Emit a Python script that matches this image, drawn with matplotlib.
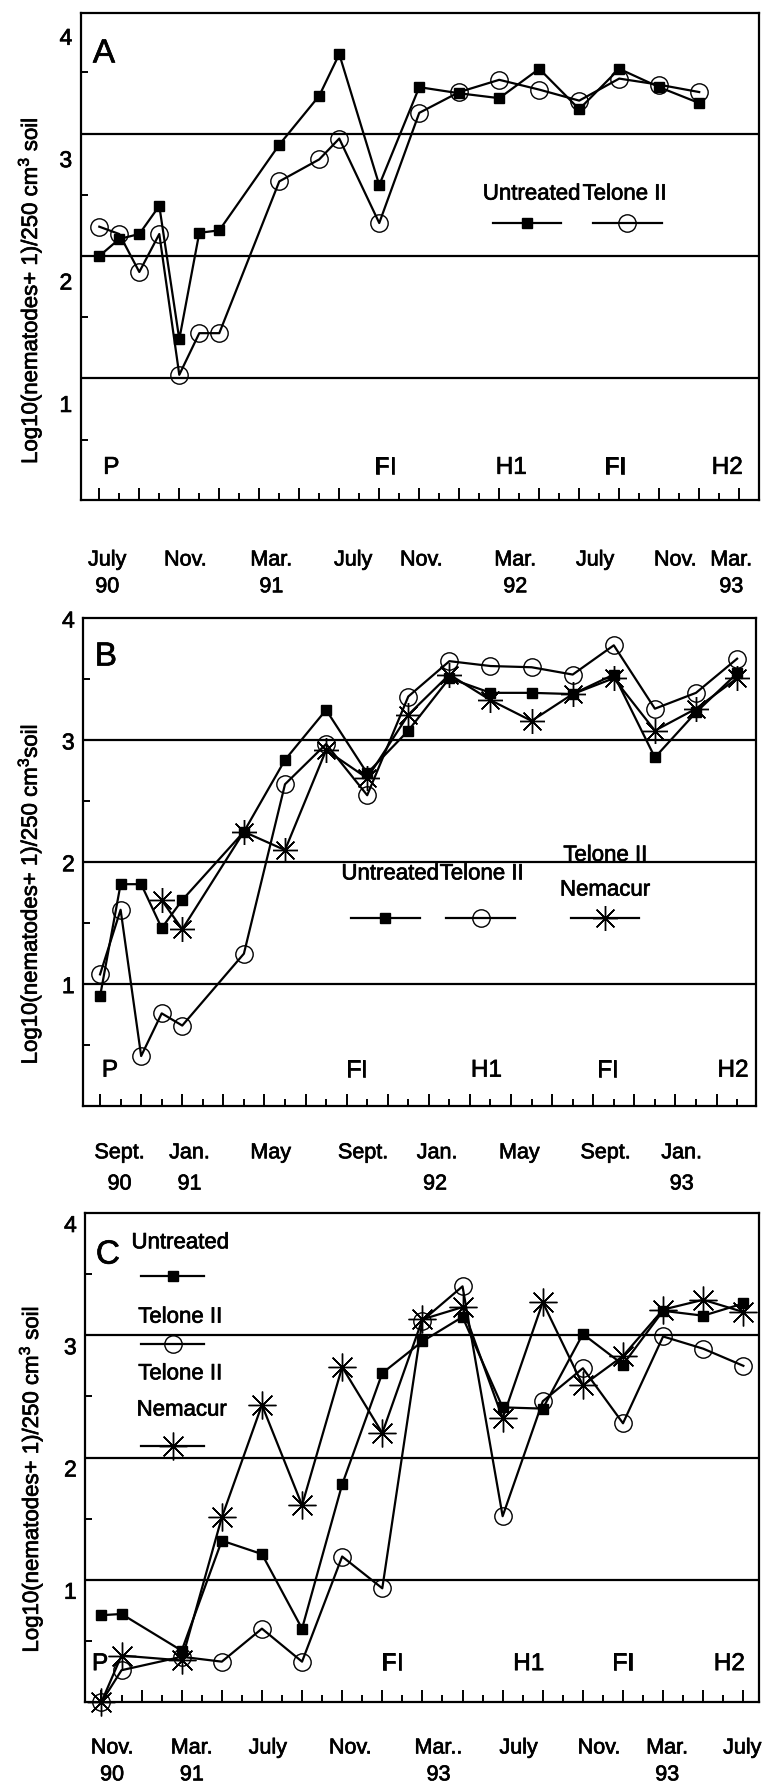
import matplotlib
matplotlib.use('Agg')
import matplotlib.pyplot as plt
import matplotlib.patheffects as pe
from matplotlib.text import Text
from matplotlib.transforms import ScaledTranslation

plt.rcParams['font.family'] = ['Liberation Sans', 'DejaVu Sans']
plt.rcParams['mathtext.fontset'] = 'custom'
plt.rcParams['mathtext.rm'] = 'Liberation Sans'
plt.rcParams['mathtext.it'] = 'Liberation Sans'

# ---------------- data ----------------
# x = months since first sampling (tick index)
A_x = [0, 1, 2, 3, 4, 5, 6, 9, 11, 12, 14, 16, 18, 20, 22, 24, 26, 28, 30]
A_untreated = [2.20, 2.34, 2.38, 2.61, 1.52, 2.39, 2.41, 3.11, 3.51, 3.85, 2.78,
               3.58, 3.53, 3.49, 3.73, 3.40, 3.73, 3.58, 3.45]
A_telone = [2.44, 2.38, 2.07, 2.38, 1.23, 1.57, 1.57, 2.81, 2.99, 3.16, 2.47,
            3.37, 3.54, 3.64, 3.56, 3.47, 3.65, 3.60, 3.54]

B_x = [0, 1, 2, 3, 4, 7, 9, 11, 13, 15, 17, 19, 21, 23, 25, 27, 29, 31]
B_untreated = [0.90, 1.82, 1.82, 1.46, 1.69, 2.25, 2.84, 3.25, 2.73, 3.08, 3.51,
               3.39, 3.39, 3.38, 3.54, 2.86, 3.23, 3.55]
B_telone = [1.08, 1.61, 0.41, 0.76, 0.66, 1.25, 2.64, 2.97, 2.55, 3.36, 3.65,
            3.61, 3.60, 3.54, 3.78, 3.26, 3.39, 3.67]
B_tn_x = [3, 4, 7, 9, 11, 13, 15, 17, 19, 21, 23, 25, 27, 29, 31]
B_telone_nemacur = [1.69, 1.45, 2.25, 2.10, 2.92, 2.69, 3.21, 3.54, 3.33, 3.16,
                    3.38, 3.51, 3.08, 3.26, 3.51]

C_x = [0, 1, 4, 6, 8, 10, 12, 14, 16, 18, 20, 22, 24, 26, 28, 30, 32]
C_untreated = [0.71, 0.72, 0.42, 1.32, 1.21, 0.60, 1.78, 2.69, 2.95, 3.15, 2.41,
               2.40, 3.01, 2.76, 3.20, 3.16, 3.26]
C_telone = [0.00, 0.26, 0.37, 0.33, 0.60, 0.33, 1.19, 0.93, 3.12, 3.40, 1.52,
            2.46, 2.73, 2.28, 2.99, 2.89, 2.75]
C_telone_nemacur = [0.00, 0.38, 0.34, 1.51, 2.43, 1.61, 2.74, 2.20, 3.13, 3.23,
                    2.32, 3.27, 2.59, 2.83, 3.21, 3.29, 3.19]

A_months = ['July', 'Nov.', 'Mar.', 'July', 'Nov.', 'Mar.', 'July', 'Nov.', 'Mar.']
A_month_pos = [0.4, 4.3, 8.6, 12.7, 16.1, 20.8, 24.8, 28.8, 31.6]
A_years = ['90', '91', '92', '93']
A_year_pos = [0.4, 8.6, 20.8, 31.6]

B_months = ['Sept.', 'Jan.', 'May', 'Sept.', 'Jan.', 'May', 'Sept.', 'Jan.']
B_month_pos = [0.95, 4.35, 8.3, 12.8, 16.4, 20.4, 24.6, 28.3]
B_years = ['90', '91', '92', '93']
B_year_pos = [0.95, 4.35, 16.3, 28.3]

C_months = ['Nov.', 'Mar.', 'July', 'Nov.', 'Mar..', 'July', 'Nov.', 'Mar.', 'July']
C_month_pos = [0.53, 4.5, 8.3, 12.4, 16.8, 20.8, 24.8, 28.2, 31.95]
C_years = ['90', '91', '93', '93']
C_year_pos = [0.53, 4.5, 16.8, 28.2]

stages = ['P', 'FI', 'H1', 'FI', 'H2']
A_stage_pos = [0.6, 14.3, 20.6, 25.8, 31.4]
B_stage_pos = [0.48, 12.5, 18.8, 24.7, 30.8]
C_stage_pos = [-0.07, 14.5, 21.3, 26.0, 31.3]

ytick_labels = ['1', '2', '3', '4']

# ---------------- figure ----------------
W, H = 763, 1784
fig = plt.figure(figsize=(W / 100, H / 100), dpi=100)

LW = 1.6
sq = dict(color='black', lw=LW, marker='s', ms=6.5, mfc='black', mec='black', clip_on=False)
ci = dict(color='black', lw=LW, marker='o', ms=12.5, mfc='none', mec='black', mew=1.0, clip_on=False)


def star(ms):
    return dict(color='black', lw=LW, marker=(8, 2, 0), ms=ms, mec='black', mew=1.0, clip_on=False)


def make_axes(left, top, right, bottom):
    return fig.add_axes([left / W, 1 - bottom / H, (right - left) / W, (bottom - top) / H])


def style(ax, xlim, ylim, grid, yt, minor_y, nticks, ylab, ylab_xy, months, mpos, my,
          years, ypos, yy, stage_pos, stage_y, letter, letter_xy, ylab_dy=0.0):
    ax.set_xlim(*xlim)
    ax.set_ylim(*ylim)
    for g in grid:
        ax.axhline(g, color='black', lw=1.6, zorder=1)
    for s in ax.spines.values():
        s.set_linewidth(1.6)
    ax.set_xticks(list(range(0, nticks, 2)))
    ax.set_xticks(list(range(1, nticks, 2)), minor=True)
    ax.tick_params(axis='x', which='major', direction='in', length=9, width=1.4,
                   labelbottom=False)
    ax.tick_params(axis='x', which='minor', direction='in', length=4.8, width=1.4,
                   labelbottom=False)
    ax.set_yticks(yt)
    ax.set_yticklabels(ytick_labels)
    ax.set_yticks(minor_y, minor=True)
    ax.tick_params(axis='y', which='major', length=0, pad=6, labelsize=16.5)
    ax.tick_params(axis='y', which='minor', direction='in', length=5, width=1.4)
    if ylab_dy:
        for lbl in ax.get_yticklabels():
            lbl.set_transform(lbl.get_transform() +
                              ScaledTranslation(0, ylab_dy / 100, fig.dpi_scale_trans))
    ax.text(ylab_xy[0], ylab_xy[1], ylab, transform=ax.transAxes, rotation=90,
            ha='center', va='center', fontsize=16)
    tr = ax.get_xaxis_transform()
    for m, p in zip(months, mpos):
        ax.text(p, my, m, transform=tr, ha='center', va='center', fontsize=15.5,
                clip_on=False)
    for yv, p in zip(years, ypos):
        ax.text(p, yy, yv, transform=tr, ha='center', va='center', fontsize=15.5,
                clip_on=False)
    for s, p in zip(stages, stage_pos):
        ax.text(p, stage_y, s, ha='center', va='center', fontsize=17.5)
    ax.text(letter_xy[0], letter_xy[1], letter, transform=ax.transAxes,
            ha='center', va='center', fontsize=24)


def leg_line(ax, x0, x1, xm, y, kw):
    ax.plot([x0, x1], [y, y], transform=ax.transAxes, color='black', lw=LW, clip_on=False)
    k = dict(kw)
    k.pop('lw', None)
    k.pop('color', None)
    ax.plot([xm], [y], transform=ax.transAxes, linestyle='none', **k)


# ---------------- Panel A ----------------
axA = make_axes(80.5, 12.5, 759, 500)
style(axA, (-0.94, 32.99), (0.207, 4.19), [1.2, 2.2, 3.2], [1, 2, 3, 4],
      [0.7, 1.7, 2.7, 3.7], 33,
      r'Log10(nematodes+ 1)/250 cm$^{3}$ soil', (-0.0744, 0.43),
      A_months, A_month_pos, -0.123, A_years, A_year_pos, -0.178,
      A_stage_pos, 0.47, 'A', (0.0346, 0.915))
axA.plot(A_x, A_untreated, zorder=3, **sq)
axA.plot(A_x, A_telone, zorder=3, **ci)
axA.text(0.593, 0.6275, 'Untreated', transform=axA.transAxes, ha='left', va='center', fontsize=16)
axA.text(0.740, 0.6275, 'Telone II', transform=axA.transAxes, ha='left', va='center', fontsize=16)
leg_line(axA, 0.608, 0.708, 0.658, 0.568, sq)
leg_line(axA, 0.755, 0.857, 0.805, 0.568, ci)

# ---------------- Panel B ----------------
axB = make_axes(83, 618.5, 756, 1106)
style(axB, (-0.83, 31.92), (0, 4), [1, 2, 3], [1, 2, 3, 4],
      [0.5, 1.5, 2.5, 3.5], 32,
      r'Log10(nematodes+ 1)/250 cm$^{3}$soil', (-0.079, 0.435),
      B_months, B_month_pos, -0.096, B_years, B_year_pos, -0.16,
      B_stage_pos, 0.29, 'B', (0.034, 0.921))
axB.plot(B_x, B_untreated, zorder=3, **sq)
axB.plot(B_x, B_telone, zorder=3, **ci)
axB.plot(B_tn_x, B_telone_nemacur, zorder=3, **star(18))
axB.text(0.384, 0.476, 'Untreated', transform=axB.transAxes, ha='left', va='center', fontsize=16)
axB.text(0.530, 0.476, 'Telone II', transform=axB.transAxes, ha='left', va='center', fontsize=16)
axB.text(0.776, 0.514, 'Telone II', transform=axB.transAxes, ha='center', va='center', fontsize=16)
axB.text(0.776, 0.443, 'Nemacur', transform=axB.transAxes, ha='center', va='center', fontsize=16)
leg_line(axB, 0.398, 0.501, 0.449, 0.386, sq)
leg_line(axB, 0.540, 0.642, 0.591, 0.386, ci)
leg_line(axB, 0.725, 0.826, 0.776, 0.386, star(18))

# ---------------- Panel C ----------------
axC = make_axes(85, 1213, 759, 1702)
style(axC, (-0.82, 32.78), (0, 4), [1, 2, 3], [1, 2, 3, 4],
      [0.5, 1.5, 2.5, 3.5], 33,
      r'Log10(nematodes+ 1)/250 cm$^{3}$ soil', (-0.08, 0.456),
      C_months, C_month_pos, -0.094, C_years, C_year_pos, -0.149,
      C_stage_pos, 0.31, 'C', (0.034, 0.914), ylab_dy=-10)
axC.plot(C_x, C_untreated, zorder=3, **sq)
axC.plot(C_x, C_telone, zorder=3, **ci)
axC.plot(C_x, C_telone_nemacur, zorder=3, **star(20))
axC.text(0.069, 0.939, 'Untreated', transform=axC.transAxes, ha='left', va='center', fontsize=16)
axC.text(0.079, 0.787, 'Telone II', transform=axC.transAxes, ha='left', va='center', fontsize=16)
axC.text(0.079, 0.671, 'Telone II', transform=axC.transAxes, ha='left', va='center', fontsize=16)
axC.text(0.0766, 0.597, 'Nemacur', transform=axC.transAxes, ha='left', va='center', fontsize=16)
leg_line(axC, 0.083, 0.177, 0.1306, 0.871, sq)
leg_line(axC, 0.083, 0.177, 0.1306, 0.732, ci)
leg_line(axC, 0.083, 0.177, 0.1306, 0.524, star(20))

# slightly heavier text, like the printed original
for t in fig.findobj(Text):
    t.set_path_effects([pe.withStroke(linewidth=0.5, foreground='black')])

fig.savefig('out.png', dpi=100)
